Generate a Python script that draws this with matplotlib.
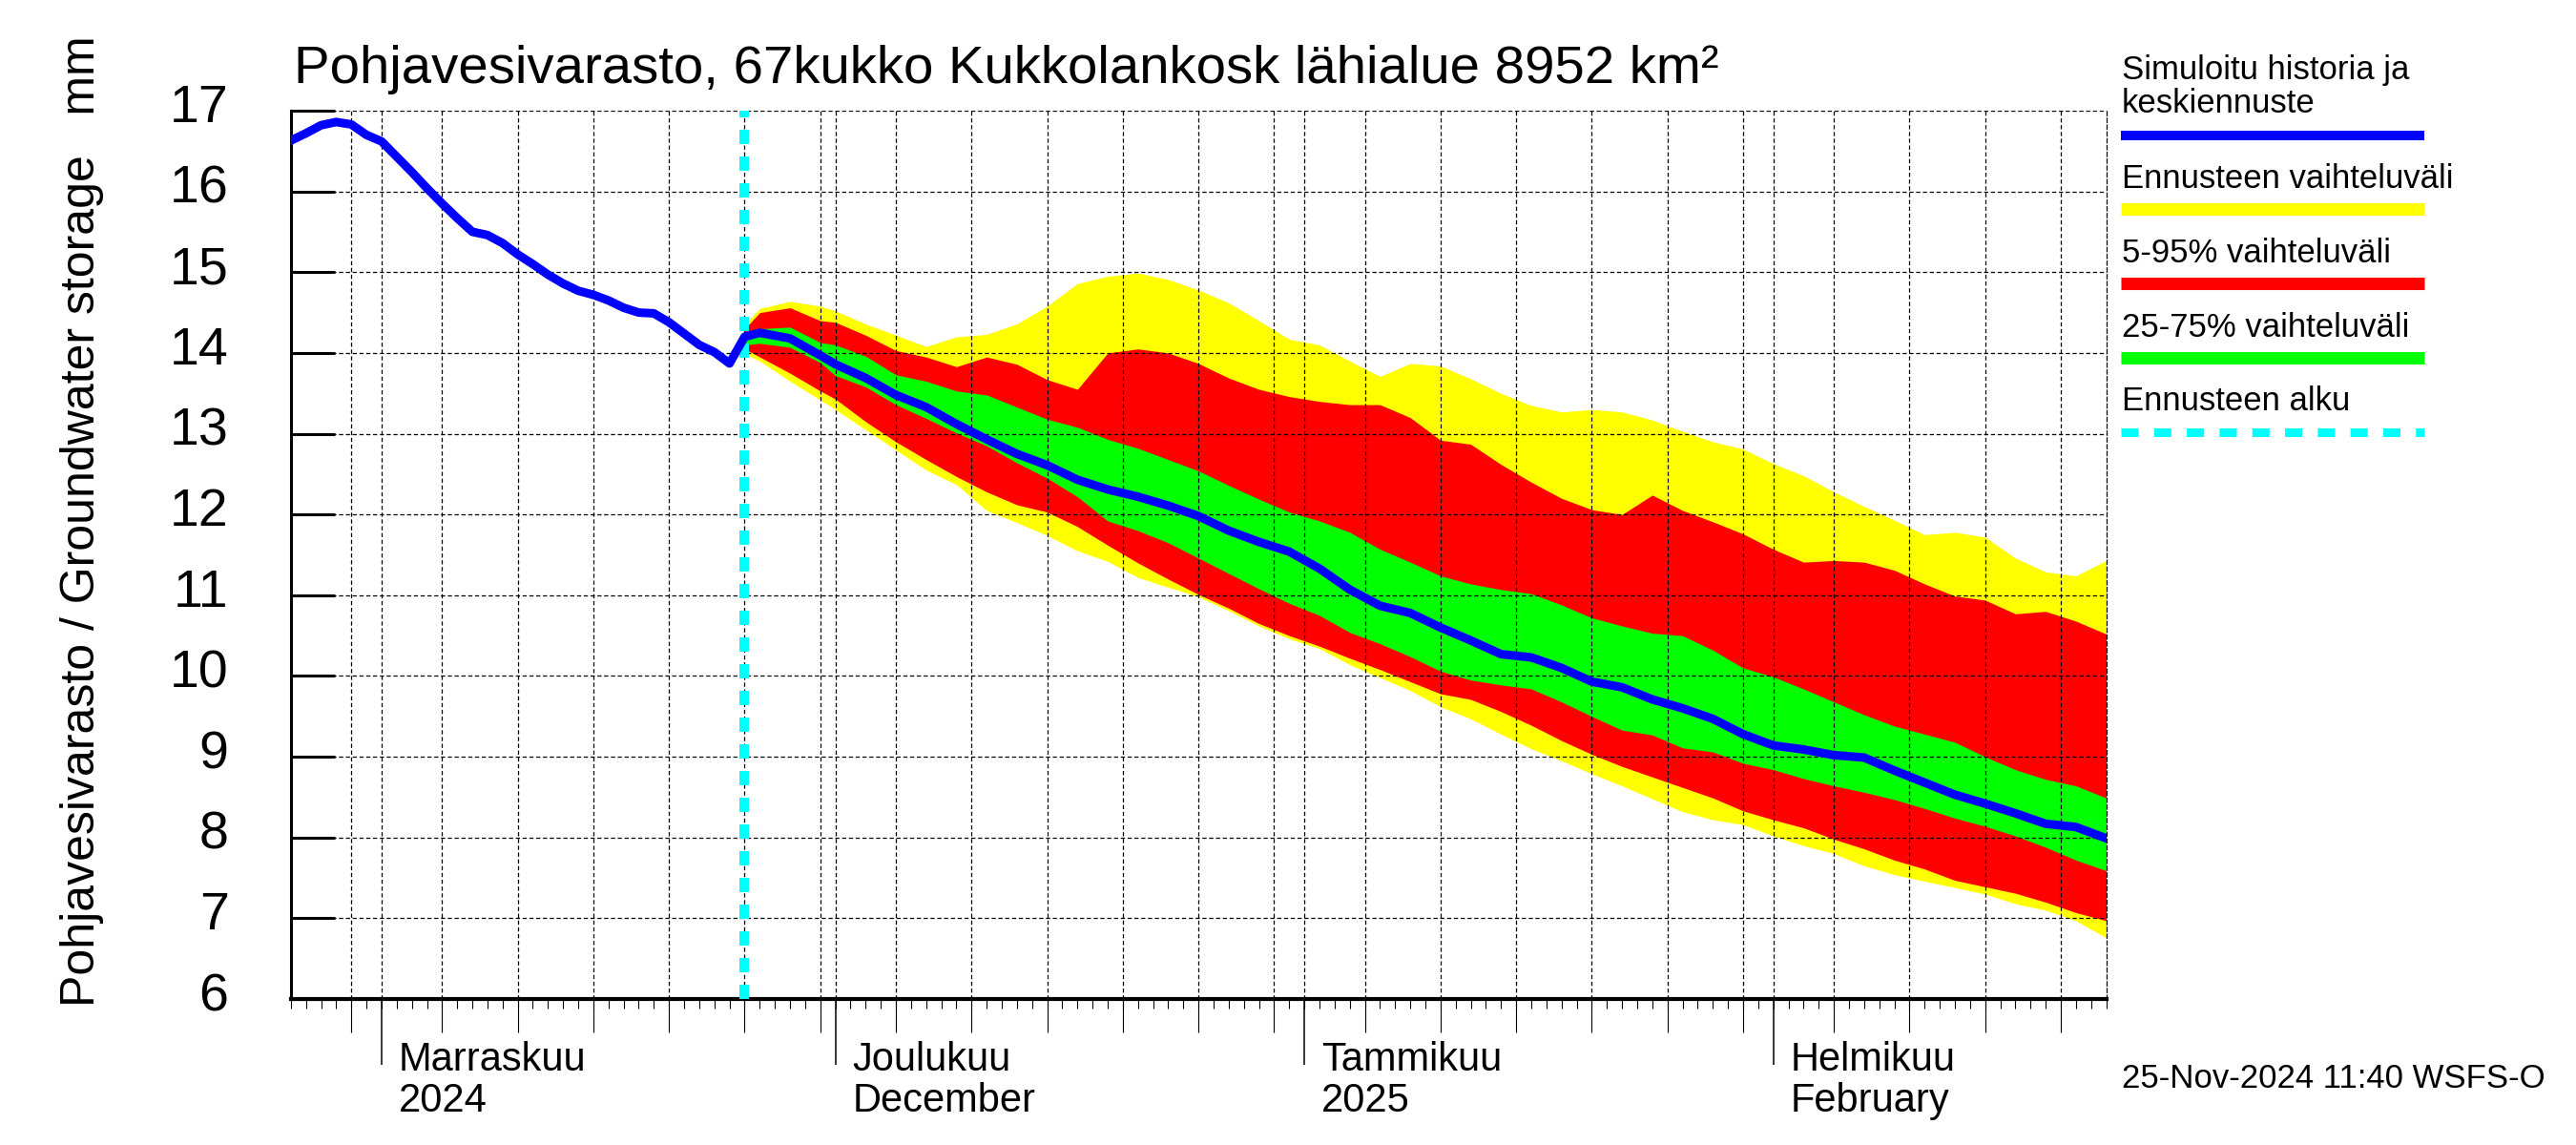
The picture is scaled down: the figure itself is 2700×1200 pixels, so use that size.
import matplotlib
matplotlib.use('Agg')

import matplotlib.pyplot as plt
import matplotlib.dates as mdates
from matplotlib.lines import Line2D
from matplotlib.transforms import ScaledTranslation
import pandas as pd

plt.rcParams['font.family'] = ['Liberation Sans', 'DejaVu Sans']

# Simulated history, one value per day from 26 Oct 2024 to 25 Nov 2024
hist_start = '2024-10-26'
hist_values = [16.63, 16.72, 16.82, 16.86, 16.83, 16.70, 16.62, 16.43, 16.24, 16.04,
               15.85, 15.67, 15.50, 15.46, 15.36, 15.22, 15.10, 14.97, 14.86, 14.77,
               14.72, 14.65, 14.56, 14.50, 14.49, 14.38, 14.24, 14.10, 14.01, 13.87, 14.21]

# Forecast, days after the forecast start (25 Nov 2024)
fcst_start = '2024-11-25'
fcst_days = [0, 1, 3, 5, 6, 8, 10, 12, 14, 16, 18, 20, 22, 24, 26, 28, 30, 32, 34, 36,
             38, 40, 42, 44, 46, 48, 50, 52, 54, 56, 58, 60, 62, 64, 66, 68, 70, 72, 74,
             76, 78, 80, 82, 84, 86, 88, 90]
fcst_median = [14.20, 14.25, 14.18, 13.97, 13.86, 13.69, 13.48, 13.33, 13.12, 12.93,
               12.75, 12.61, 12.43, 12.31, 12.22, 12.11, 11.98, 11.80, 11.66, 11.54,
               11.33, 11.07, 10.87, 10.78, 10.60, 10.44, 10.27, 10.23, 10.10, 9.93,
               9.86, 9.71, 9.60, 9.47, 9.28, 9.14, 9.09, 9.02, 8.99, 8.83,
               8.68, 8.53, 8.42, 8.30, 8.17, 8.13, 7.99]
fcst_max = [14.35, 14.55, 14.64, 14.58, 14.52, 14.36, 14.22, 14.08, 14.20, 14.23,
            14.36, 14.58, 14.86, 14.95, 14.99, 14.91, 14.78, 14.62, 14.40, 14.17,
            14.10, 13.90, 13.71, 13.87, 13.84, 13.68, 13.50, 13.35, 13.27, 13.30,
            13.27, 13.17, 13.03, 12.90, 12.81, 12.63, 12.48, 12.28, 12.10, 11.93,
            11.75, 11.78, 11.72, 11.46, 11.29, 11.24, 11.43]
fcst_min = [13.99, 13.90, 13.65, 13.42, 13.30, 13.05, 12.80, 12.55, 12.37, 12.05,
            11.90, 11.74, 11.55, 11.42, 11.22, 11.10, 10.98, 10.81, 10.62, 10.46,
            10.34, 10.14, 9.98, 9.82, 9.62, 9.47, 9.28, 9.10, 8.95, 8.79,
            8.64, 8.48, 8.32, 8.22, 8.16, 8.02, 7.90, 7.80, 7.65, 7.54,
            7.46, 7.38, 7.30, 7.18, 7.10, 6.97, 6.76]
fcst_p95 = [14.30, 14.50, 14.56, 14.40, 14.38, 14.22, 14.03, 13.95, 13.83, 13.95,
            13.86, 13.67, 13.55, 14.00, 14.05, 14.00, 13.87, 13.69, 13.55, 13.46,
            13.40, 13.36, 13.36, 13.20, 12.92, 12.87, 12.62, 12.40, 12.20, 12.06,
            12.00, 12.24, 12.05, 11.91, 11.76, 11.57, 11.41, 11.43, 11.41, 11.31,
            11.14, 10.99, 10.94, 10.77, 10.80, 10.68, 10.52]
fcst_p05 = [14.05, 13.95, 13.75, 13.53, 13.43, 13.15, 12.90, 12.68, 12.47, 12.28,
            12.12, 12.03, 11.85, 11.62, 11.40, 11.20, 11.01, 10.84, 10.65, 10.50,
            10.37, 10.22, 10.08, 9.93, 9.78, 9.71, 9.56, 9.39, 9.20, 9.03,
            8.88, 8.75, 8.62, 8.49, 8.33, 8.22, 8.12, 7.98, 7.86, 7.72,
            7.61, 7.47, 7.39, 7.31, 7.20, 7.07, 6.97]
fcst_p75 = [14.15, 14.30, 14.32, 14.13, 14.10, 13.96, 13.73, 13.65, 13.53, 13.48,
            13.33, 13.18, 13.08, 12.93, 12.82, 12.68, 12.54, 12.36, 12.19, 12.03,
            11.92, 11.78, 11.57, 11.41, 11.24, 11.14, 11.07, 11.02, 10.88, 10.72,
            10.62, 10.53, 10.50, 10.32, 10.10, 9.99, 9.84, 9.68, 9.52, 9.38,
            9.28, 9.18, 9.00, 8.84, 8.72, 8.64, 8.49]
fcst_p25 = [14.10, 14.12, 14.07, 13.88, 13.72, 13.58, 13.36, 13.19, 13.01, 12.85,
            12.64, 12.45, 12.22, 11.92, 11.80, 11.65, 11.46, 11.27, 11.08, 10.90,
            10.75, 10.54, 10.40, 10.24, 10.06, 9.95, 9.89, 9.84, 9.68, 9.50,
            9.33, 9.27, 9.11, 9.06, 8.92, 8.84, 8.73, 8.64, 8.56, 8.47,
            8.36, 8.24, 8.14, 8.02, 7.88, 7.72, 7.59]

x_start, x_end = '2024-10-26', '2025-02-23'
y_ticks = list(range(6, 18))
month_names = ['Marraskuu', 'Joulukuu', 'Tammikuu', 'Helmikuu']
month_sub = ['2024', 'December', '2025', 'February']

title = 'Pohjavesivarasto, 67kukko Kukkolankosk lähialue 8952 km²'
ylabel = 'Pohjavesivarasto / Groundwater storage   mm'
legend_labels = [['Simuloitu historia ja', 'keskiennuste'], ['Ennusteen vaihteluväli'],
                 ['5-95% vaihteluväli'], ['25-75% vaihteluväli'], ['Ennusteen alku']]
stamp = '25-Nov-2024 11:40 WSFS-O'

W, H = 2700, 1200
fig = plt.figure(figsize=(W / 100, H / 100), dpi=100)
ax = fig.add_axes([304.8 / W, 1 - 1047 / H, (2207.5 - 304.8) / W, (1047 - 116) / H])

hist_dates = pd.date_range(hist_start, periods=len(hist_values), freq='D')
fc_dates = pd.Timestamp(fcst_start) + pd.to_timedelta(fcst_days, unit='D')

ax.fill_between(fc_dates, fcst_min, fcst_max, color='#FFFF00', lw=0, zorder=1)
ax.fill_between(fc_dates, fcst_p05, fcst_p95, color='#FF0000', lw=0, zorder=1.1)
ax.fill_between(fc_dates, fcst_p25, fcst_p75, color='#00FF00', lw=0, zorder=1.2)

ax.axvline(pd.Timestamp(fcst_start), color='#00FFFF', lw=7.2,
           linestyle=(0, (1.5, 1.3)), zorder=3)

line_dates = list(hist_dates[:-1]) + list(fc_dates)
line_vals = hist_values[:-1] + fcst_median
ax.plot(line_dates, line_vals, color='#0000FF', lw=6.5, zorder=4,
        solid_joinstyle='round')

ax.set_xlim(pd.Timestamp(x_start), pd.Timestamp(x_end))
ax.set_ylim(6, 17)

# x ticks: months long, every 5th day medium, every day short
all_days = pd.date_range(x_start, x_end, freq='D')
month_starts = all_days[all_days.day == 1]
five_days = all_days[(all_days.day % 5 == 0) & (all_days.day <= 30)]
ax.set_xticks(month_starts)
ax.set_xticks(five_days, minor=True)
ax.tick_params(axis='x', which='major', direction='out', length=50, width=1.1,
               labelbottom=False)
ax.tick_params(axis='x', which='minor', direction='out', length=25, width=0.8)
sec = ax.secondary_xaxis('bottom')
sec.set_xticks(mdates.date2num(all_days))
sec.tick_params(axis='x', direction='out', length=7, width=0.8, labelbottom=False)
sec.spines['bottom'].set_visible(False)

ax.set_yticks(y_ticks)
ax.tick_params(axis='y', direction='in', length=33, width=2.2, pad=47, labelsize=40)
# the reference digits sit a little above their tick
for lab in ax.get_yticklabels():
    lab.set_transform(lab.get_transform() + ScaledTranslation(0, 0.08, fig.dpi_scale_trans))

ax.grid(which='both', axis='x', color='black', lw=0.9, linestyle=(0, (3.5, 2.2)))
ax.grid(which='major', axis='y', color='black', lw=0.9, linestyle=(0, (3.5, 2.2)))
ax.set_axisbelow(False)

ax.spines['top'].set_visible(False)
ax.spines['right'].set_linestyle((0, (3.5, 2.2)))
ax.spines['right'].set_linewidth(0.9)
ax.spines['left'].set_linewidth(2.2)
ax.spines['bottom'].set_linewidth(3)

for d, name, sub in zip(month_starts, month_names, month_sub):
    ax.annotate(name, xy=(d, 0), xycoords=('data', 'axes fraction'),
                xytext=(12.7, -54), textcoords='offset points',
                ha='left', va='baseline', fontsize=30)
    ax.annotate(sub, xy=(d, 0), xycoords=('data', 'axes fraction'),
                xytext=(12.7, -85), textcoords='offset points',
                ha='left', va='baseline', fontsize=30)

fig.text(308 / W, 1 - 87 / H, title, fontsize=40.6, ha='left', va='baseline')
fig.text(86 / W, 1 - 546 / H, ylabel, fontsize=36, rotation=90,
         ha='center', va='center')

# legend drawn by hand at the right
leg_colors = ['#0000FF', '#FFFF00', '#FF0000', '#00FF00', '#00FFFF']
leg_text_y = [83, 197, 275, 353, 430]
leg_bar_y = [142, 219, 297, 375, 453]
leg_bar_w = [7.2, 9.4, 9.4, 9.4, 6.5]
for lines, c, ty, by, bw in zip(legend_labels, leg_colors, leg_text_y, leg_bar_y, leg_bar_w):
    for i, s in enumerate(lines):
        fig.text(2224 / W, 1 - (ty + 35 * i) / H, s, fontsize=25,
                 ha='left', va='baseline')
    ls = (0, (2.0, 1.8)) if c == '#00FFFF' else '-'
    fig.add_artist(Line2D([2223 / W, 2541 / W], [1 - by / H, 1 - by / H],
                          color=c, lw=bw, linestyle=ls, solid_capstyle='butt',
                          dash_capstyle='butt', transform=fig.transFigure))

fig.text(2224 / W, 1 - 1140 / H, stamp, fontsize=25, ha='left', va='baseline')

fig.savefig('out.png', dpi=100)
plt.close(fig)
